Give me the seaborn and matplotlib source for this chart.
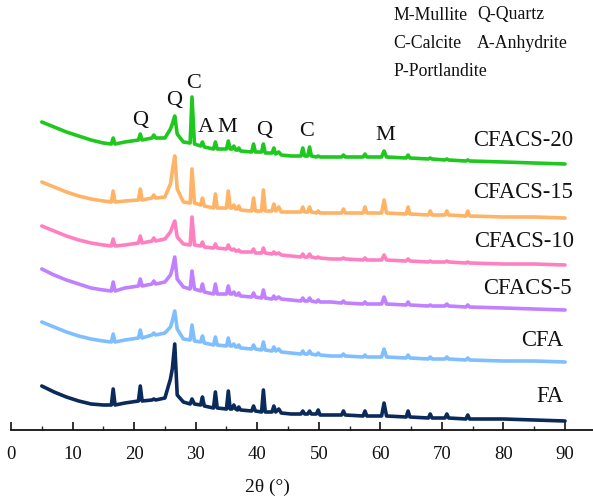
import numpy as np
import pandas as pd
import matplotlib
matplotlib.use("Agg")
import matplotlib.pyplot as plt
import seaborn as sns

# 2-theta positions (degrees) shared by all patterns
two_theta = [
    5, 7, 9, 11, 13, 15, 16.3, 16.6, 16.9, 18.5,
    20.7, 21.0, 21.3, 22.9, 23.2, 23.5, 25.0, 25.9, 26.2, 26.6,
    27.0, 28.0, 29.1, 29.4, 29.8, 30.8, 31.1, 31.4, 32.9, 33.2,
    33.5, 35.0, 35.3, 35.6, 35.9, 36.2, 36.5, 36.8, 37.0, 37.3,
    39.1, 39.4, 39.7, 40.7, 41.0, 41.3, 42.4, 42.7, 43.0, 43.5,
    43.9, 45.5, 47.1, 47.4, 47.7, 48.2, 48.5, 48.8, 49.6, 49.9,
    50.2, 52.0, 53.7, 54.0, 54.3, 57.2, 57.5, 57.8, 60.2, 60.6,
    61.0, 64.2, 64.5, 64.8, 67.8, 68.1, 68.4, 70.5, 70.8, 71.1,
    73.9, 74.2, 74.5, 80, 85, 90,
]

# Intensities (a.u.)
fa = [
    44, 38, 33, 29, 26, 25, 25, 41, 25, 27,
    29, 44, 29, 30, 31, 30, 32, 51, 61, 86,
    35, 28, 26, 31, 26, 25, 33, 24, 22, 38,
    22, 21, 39, 21, 21, 25, 21, 20, 23, 20,
    19, 24, 19, 18, 40, 18, 18, 24, 18, 21,
    17, 16, 16, 19, 16, 16, 19, 16, 16, 20,
    15, 15, 15, 19, 15, 14, 19, 14, 14, 27,
    14, 13, 19, 13, 12, 16, 12, 12, 16, 12,
    11, 15, 11, 11, 10, 9,
]
cfa = [
    58, 53, 48, 44, 41, 39, 38, 46, 38, 40,
    42, 50, 42, 45, 47, 45, 47, 53, 59, 69,
    51, 41, 40, 55, 39, 38, 44, 37, 35, 43,
    35, 34, 42, 34, 34, 36, 33, 33, 35, 32,
    31, 35, 31, 30, 38, 30, 29, 33, 29, 31,
    28, 27, 26, 29, 26, 26, 29, 26, 25, 27,
    25, 24, 24, 26, 24, 23, 25, 23, 23, 31,
    23, 22, 25, 22, 21, 23, 21, 21, 23, 21,
    20, 22, 20, 19, 19, 18,
]
cfacs_5 = [
    61, 55, 50, 46, 42, 40, 39, 48, 39, 42,
    44, 51, 44, 46, 49, 46, 48, 55, 61, 73,
    51, 43, 41, 59, 41, 39, 46, 38, 36, 46,
    36, 36, 44, 36, 36, 38, 35, 35, 37, 34,
    33, 37, 33, 32, 40, 32, 31, 34, 31, 33,
    31, 30, 29, 32, 29, 29, 32, 29, 28, 30,
    28, 28, 27, 29, 27, 26, 28, 26, 26, 33,
    26, 25, 28, 25, 24, 25, 24, 24, 26, 24,
    23, 25, 23, 22, 21, 20,
]
cfacs_10 = [
    54, 49, 44, 40, 37, 35, 34, 41, 34, 35,
    37, 44, 37, 39, 42, 39, 41, 48, 53, 59,
    43, 36, 35, 63, 35, 34, 38, 33, 32, 36,
    32, 31, 35, 31, 30, 31, 29, 29, 30, 28,
    28, 31, 27, 27, 32, 27, 26, 28, 26, 27,
    25, 24, 23, 26, 23, 23, 26, 23, 22, 23,
    22, 21, 21, 22, 21, 20, 22, 20, 20, 25,
    20, 19, 21, 19, 18, 19, 18, 18, 19, 18,
    17, 18, 17, 16, 16, 15,
]
cfacs_15 = [
    58, 53, 48, 44, 41, 39, 38, 49, 38, 39,
    40, 51, 40, 42, 45, 42, 43, 56, 69, 84,
    51, 38, 37, 71, 37, 35, 42, 34, 32, 46,
    32, 32, 49, 32, 32, 35, 31, 31, 34, 30,
    29, 42, 29, 29, 50, 29, 29, 36, 29, 33,
    28, 28, 28, 33, 28, 28, 33, 28, 27, 29,
    27, 27, 27, 31, 27, 27, 33, 27, 27, 40,
    27, 26, 33, 26, 25, 29, 25, 25, 29, 25,
    24, 29, 24, 23, 23, 22,
]
cfacs_20 = [
    68, 63, 58, 54, 50, 47, 46, 52, 46, 48,
    50, 56, 50, 52, 55, 52, 52, 61, 66, 74,
    56, 48, 47, 93, 46, 44, 48, 43, 41, 48,
    41, 41, 49, 41, 41, 44, 40, 40, 42, 39,
    38, 46, 38, 38, 46, 37, 37, 42, 36, 38,
    35, 34, 34, 42, 34, 34, 43, 34, 33, 34,
    33, 33, 33, 35, 33, 33, 36, 33, 33, 39,
    33, 32, 35, 32, 31, 32, 31, 30, 31, 30,
    29, 30, 29, 28, 27, 26,
]

samples = ["FA", "CFA", "CFACS-5", "CFACS-10", "CFACS-15", "CFACS-20"]
series = [fa, cfa, cfacs_5, cfacs_10, cfacs_15, cfacs_20]
offsets = [0, 50, 100, 150, 190, 240]
colors = ["#0b2a5c", "#80bfff", "#c080ff", "#ff80c0", "#ffb366", "#1ec81e"]

# Sample name positions (right edge x, y) and phase markers
name_pos = [(89.7, 34), (89.8, 90), (91.1, 142), (91.5, 189), (91.3, 239), (91.3, 290)]
phase_marks = ["Q", "Q", "C", "A", "M", "Q", "C", "M"]
phase_x = [21.0, 26.5, 29.7, 31.6, 35.1, 41.1, 48.0, 60.8]
phase_y = [310, 331, 348, 303, 303, 300, 299, 296]

rows = []
for name, vals, off in zip(samples, series, offsets):
    assert len(vals) == len(two_theta)
    for t, v in zip(two_theta, vals):
        rows.append({"two_theta": t, "intensity": v + off, "sample": name})
df = pd.DataFrame(rows)

sns.set_theme(style="white")
plt.rcParams["font.family"] = ["Liberation Serif", "DejaVu Serif"]

fig = plt.figure(figsize=(5.93, 5.02), dpi=100)
ax = fig.add_axes([11 / 593, 71 / 502, 95 * 6.156 / 593, 431 / 502])

for name, col in zip(samples, colors):
    sns.lineplot(data=df[df["sample"] == name], x="two_theta", y="intensity",
                 color=col, linewidth=2.6, estimator=None, sort=False, ax=ax)

for name, (nx, ny), col in zip(samples, name_pos, colors):
    ax.text(nx, ny, name, ha="right", va="center", fontsize=16.3, color="#111111")

for m, px, py in zip(phase_marks, phase_x, phase_y):
    ax.text(px, py, m, ha="center", va="center", fontsize=16, color="#111111")

ax.set_xlim(0, 95)
ax.set_ylim(0, 431)
ax.set_xticks(np.arange(0, 91, 10))
ax.set_xticks(np.arange(5, 91, 10), minor=True)
ax.set_yticks([])
for side in ["left", "top", "right"]:
    ax.spines[side].set_visible(False)
ax.spines["bottom"].set_color("#111111")
ax.spines["bottom"].set_linewidth(1.3)
ax.tick_params(axis="x", which="major", direction="in", length=6, width=1.2,
               labelsize=13.5, pad=11, colors="#111111", bottom=True)
ax.tick_params(axis="x", which="minor", direction="in", length=3, width=1.0,
               bottom=True)
ax.set_xlabel("")
ax.set_ylabel("")
if ax.get_legend():
    ax.get_legend().remove()

fig.text(267 / 593, 1 - 487 / 502, "2θ (°)", fontsize=14, ha="center", va="center",
         color="#111111")

fig.text(393 / 593, 1 - 15 / 502, "M-Mullite", fontsize=12.8, va="center", color="#111111")
fig.text(477 / 593, 1 - 15 / 502, "Q-Quartz", fontsize=12.8, va="center", color="#111111")
fig.text(393 / 593, 1 - 43 / 502, "C-Calcite", fontsize=12.8, va="center", color="#111111")
fig.text(477 / 593, 1 - 43 / 502, "A-Anhydrite", fontsize=12.8, va="center", color="#111111")
fig.text(393 / 593, 1 - 71 / 502, "P-Portlandite", fontsize=12.8, va="center", color="#111111")

fig.savefig("out.png", dpi=100)
